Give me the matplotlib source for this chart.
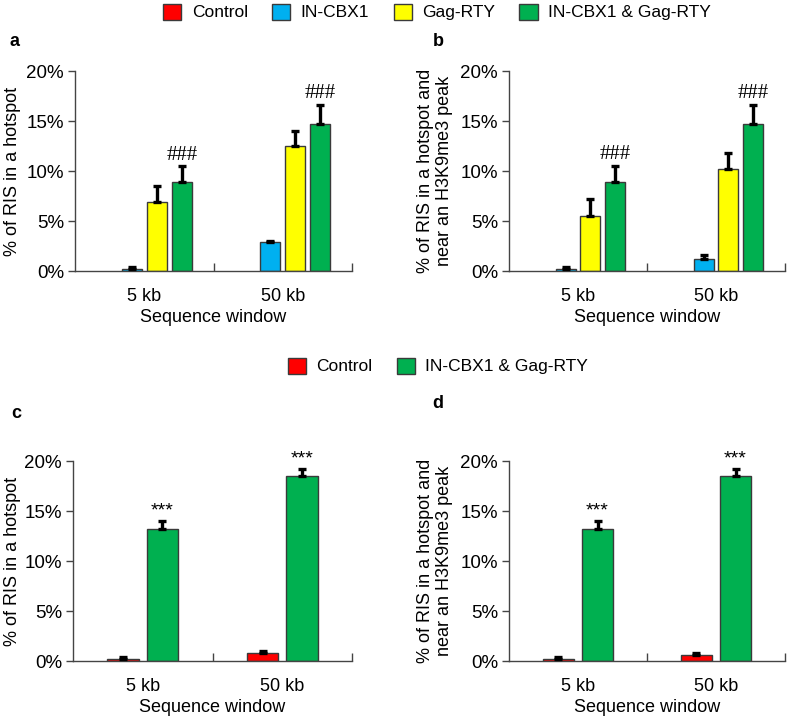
import numpy as np
import matplotlib.pyplot as plt
from matplotlib.patches import Patch

plt.rcParams['font.family'] = ['Liberation Sans', 'DejaVu Sans']

# data (% of RIS)
windows = ['5 kb', '50 kb']
groups_top = ['Control', 'IN-CBX1', 'Gag-RTY', 'IN-CBX1 & Gag-RTY']
colors_top = ['#FF0000', '#00B0F0', '#FFFF00', '#00B050']

a_vals = [[0.0, 0.0], [0.2, 2.9], [6.9, 12.55], [8.9, 14.75]]
a_errs = [[0.0, 0.0], [0.2, 0.15], [1.6, 1.45], [1.6, 1.9]]
b_vals = [[0.0, 0.0], [0.2, 1.25], [5.55, 10.2], [8.9, 14.7]]
b_errs = [[0.0, 0.0], [0.25, 0.35], [1.65, 1.6], [1.65, 1.95]]

groups_bot = ['Control', 'IN-CBX1 & Gag-RTY']
colors_bot = ['#FF0000', '#00B050']
c_vals = [[0.17, 0.85], [13.2, 18.5]]
c_errs = [[0.2, 0.2], [0.8, 0.75]]
d_vals = [[0.17, 0.57], [13.2, 18.5]]
d_errs = [[0.2, 0.27], [0.8, 0.75]]

W, H = 787, 721
fig = plt.figure(figsize=(W / 100, H / 100), dpi=100)


def px_axes(left, right, top, bottom):
    return fig.add_axes([left / W, 1 - bottom / H, (right - left) / W, (bottom - top) / H])


def draw_panel(ax, vals, errs, colors, width, step, ylabel, mark, mark_size, mark_font, ypad):
    x = np.arange(len(windows))
    n = len(vals)
    for i in range(n):
        pos = x + (i - (n - 1) / 2) * step
        v = np.array(vals[i])
        # zero-height bars leave no visible mark in the original
        lw = np.where(v > 0, 1.0, 0.0)
        ax.bar(pos, v, width, color=colors[i], edgecolor='#3a3a3a', linewidth=lw, zorder=2)
        e = np.array(errs[i])
        show = e > 0
        if show.any():
            ax.errorbar(pos[show], v[show],
                        yerr=[np.zeros(show.sum()), e[show]],
                        fmt='none', ecolor='black', elinewidth=2.4, capsize=2.8,
                        capthick=2.4, zorder=3)
    # significance marks above the last series
    last = n - 1
    pos = x + (last - (n - 1) / 2) * step
    for j in range(len(windows)):
        top = vals[last][j] + errs[last][j]
        ax.text(pos[j], top + 0.15, mark, ha='center', va='bottom',
                fontsize=mark_size, family=mark_font)
    ax.set_xlim(-0.5, 1.5)
    ax.set_ylim(0, 20)
    ax.set_xticks(x)
    ax.set_xticklabels(windows, fontsize=13)
    ax.set_xticks([0.5, 1.5], minor=True)
    ax.tick_params(axis='x', which='major', length=0, pad=12)
    ax.tick_params(axis='x', which='minor', direction='in', length=6, width=1, color='#444444')
    ax.set_yticks([0, 5, 10, 15, 20])
    ax.set_yticklabels(['%d%%' % v for v in [0, 5, 10, 15, 20]], fontsize=13.5)
    ax.tick_params(axis='y', direction='out', length=5, width=1, color='#444444', pad=3)
    for s in ['top', 'right']:
        ax.spines[s].set_visible(False)
    for s in ['left', 'bottom']:
        ax.spines[s].set_color('#444444')
        ax.spines[s].set_linewidth(1)
    ax.set_xlabel('Sequence window', fontsize=13, labelpad=3)
    ax.set_ylabel(ylabel, fontsize=13, labelpad=ypad)


lab1 = '% of RIS in a hotspot'
lab2 = '% of RIS in a hotspot and\nnear an H3K9me3 peak'

ax_a = px_axes(75, 352, 71, 271)
draw_panel(ax_a, a_vals, a_errs, colors_top, 0.145, 0.181, lab1, '###', 15, 'Liberation Serif', 4)
ax_b = px_axes(509, 785, 71, 271)
draw_panel(ax_b, b_vals, b_errs, colors_top, 0.145, 0.181, lab2, '###', 15, 'Liberation Serif', 5)
ax_c = px_axes(73, 352, 461, 661)
draw_panel(ax_c, c_vals, c_errs, colors_bot, 0.225, 0.283, lab1, '***', 14, 'Liberation Sans', 2)
ax_d = px_axes(509, 785, 461, 661)
draw_panel(ax_d, d_vals, d_errs, colors_bot, 0.225, 0.283, lab2, '***', 14, 'Liberation Sans', 5)

# panel letters
for lbl, xp, yp in [('a', 10, 42), ('b', 433, 42), ('c', 11, 413), ('d', 432, 403)]:
    fig.text(xp / W, 1 - yp / H, lbl, fontsize=13, fontweight='bold', va='center', ha='left')

# legends
h_top = [Patch(facecolor=c, edgecolor='#3a3a3a', linewidth=1) for c in colors_top]
fig.legend(h_top, groups_top, loc='center', bbox_to_anchor=(437 / W, 1 - 12 / H), ncol=4,
           frameon=False, fontsize=12.5, handlelength=1.05, handleheight=1.05,
           handletextpad=0.6, columnspacing=1.4)
h_bot = [Patch(facecolor=c, edgecolor='#3a3a3a', linewidth=1) for c in colors_bot]
fig.legend(h_bot, groups_bot, loc='center', bbox_to_anchor=(438 / W, 1 - 366 / H), ncol=2,
           frameon=False, fontsize=12.5, handlelength=1.05, handleheight=1.05,
           handletextpad=0.6, columnspacing=1.4)

fig.savefig('out.png', dpi=100)
